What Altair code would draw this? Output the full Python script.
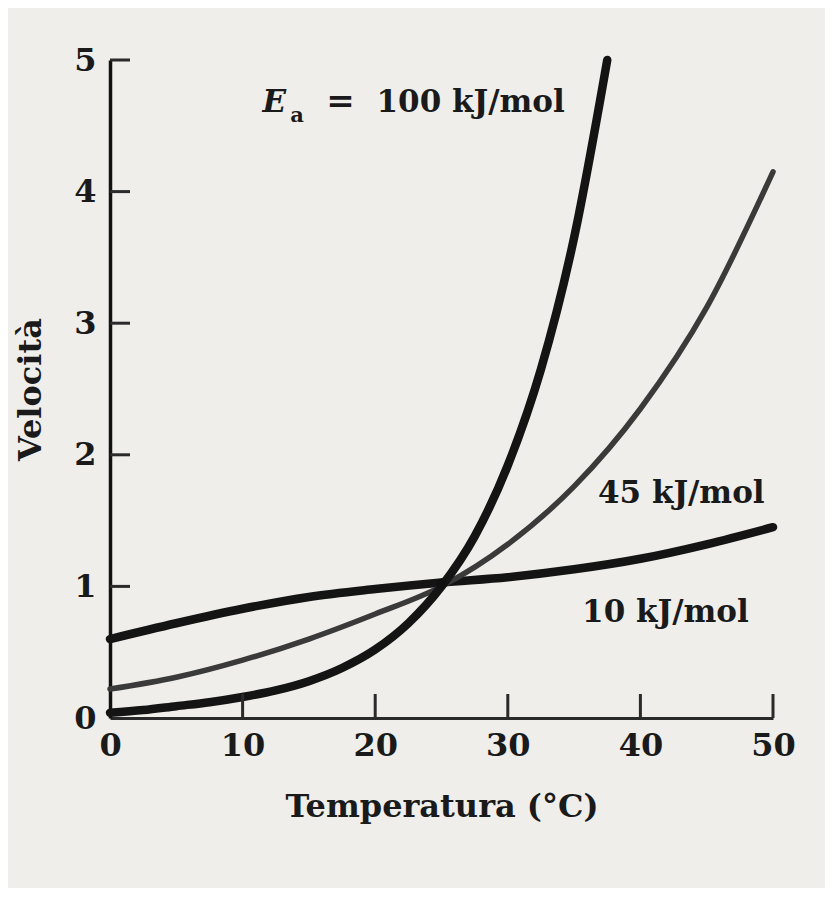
import altair as alt
import pandas as pd

# ---- data ----
temps_100 = [0, 2.5, 5, 7.5, 10, 12.5, 15, 17.5, 20, 22.5, 25, 27.5, 30, 32.5, 35, 37.5]
rate_100 = [0.04, 0.06, 0.09, 0.12, 0.16, 0.21, 0.28, 0.38, 0.52, 0.72, 1.00, 1.38, 1.92, 2.65, 3.65, 5.0]
temps_45 = [0, 5, 10, 15, 20, 25, 30, 35, 40, 45, 50]
rate_45 = [0.22, 0.31, 0.44, 0.60, 0.79, 1.00, 1.32, 1.76, 2.35, 3.12, 4.15]
temps_10 = [0, 5, 10, 15, 20, 25, 30, 35, 40, 45, 50]
rate_10 = [0.60, 0.72, 0.83, 0.92, 0.98, 1.03, 1.07, 1.13, 1.21, 1.32, 1.45]

x_ticks = [10, 20, 30, 40, 50]
y_ticks = [1, 2, 3, 4, 5]

cross_x = [25]
cross_y = [1.02]

label_texts = ["45 kJ/mol", "10 kJ/mol"]
label_x = [36.8, 35.6]
label_y = [1.63, 0.73]

W, H = 663, 658
FONT = "DejaVu Serif"
INK = "#1a1a1a"

xscale = alt.Scale(domain=[0, 50], nice=False)
yscale = alt.Scale(domain=[0, 5], nice=False)

xaxis = alt.Axis(title="Temperatura (°C)", values=[0, 10, 20, 30, 40, 50], format="d",
                 tickSize=0, labelPadding=12, grid=False,
                 domainColor="#2a2a2a", domainWidth=3,
                 labelFont=FONT, labelFontSize=32, labelFontWeight="bold",
                 labelColor=INK, labelFlush=False,
                 titleFont=FONT, titleFontSize=32, titleFontWeight="bold",
                 titleColor=INK, titlePadding=30)
yaxis = alt.Axis(title="Velocità", values=[0, 1, 2, 3, 4, 5], format="d",
                 tickSize=0, labelPadding=14, grid=False,
                 domainColor="#111111", domainWidth=3.5,
                 labelFont=FONT, labelFontSize=32, labelFontWeight="bold",
                 labelColor=INK, labelFlush=False,
                 titleFont=FONT, titleFontSize=32, titleFontWeight="bold",
                 titleColor=INK, titlePadding=26)


def curve(temps, rates, color, width, with_axes=False):
    d = pd.DataFrame({"T": temps, "v": rates})
    if with_axes:
        xe = alt.X("T:Q", scale=xscale, axis=xaxis)
        ye = alt.Y("v:Q", scale=yscale, axis=yaxis)
    else:
        xe = alt.X("T:Q", scale=xscale)
        ye = alt.Y("v:Q", scale=yscale)
    return alt.Chart(d).mark_line(interpolate="monotone", strokeCap="round",
                                  color=color, strokeWidth=width).encode(x=xe, y=ye)


c10 = curve(temps_10, rate_10, "#141414", 8.5, with_axes=True)
c45 = curve(temps_45, rate_45, "#3a3a3a", 5.5)
c100 = curve(temps_100, rate_100, "#141414", 8.5)

xt = alt.Chart(pd.DataFrame({"t": x_ticks})).mark_rule(color="#2a2a2a", strokeWidth=3).encode(
    x=alt.X("t:Q", scale=xscale), y=alt.value(H), y2=alt.value(H - 24))
yt = alt.Chart(pd.DataFrame({"t": y_ticks})).mark_rule(color="#2a2a2a", strokeWidth=3).encode(
    y=alt.Y("t:Q", scale=yscale), x=alt.value(0), x2=alt.value(20))

dot = alt.Chart(pd.DataFrame({"x": cross_x, "y": cross_y})).mark_circle(
    color="#111111", opacity=1, size=110).encode(
    x=alt.X("x:Q", scale=xscale), y=alt.Y("y:Q", scale=yscale))

labels = alt.Chart(pd.DataFrame({"x": label_x, "y": label_y, "txt": label_texts})).mark_text(
    align="left", baseline="alphabetic", font=FONT, fontSize=31, fontWeight="bold",
    color=INK).encode(
    x=alt.X("x:Q", scale=xscale), y=alt.Y("y:Q", scale=yscale), text="txt:N")


def note(x, y, txt, size=31, style="normal"):
    return alt.Chart(pd.DataFrame({"x": [x], "y": [y], "txt": [txt]})).mark_text(
        align="left", baseline="alphabetic", font=FONT, fontSize=size, fontWeight="bold",
        fontStyle=style, color=INK).encode(
        x=alt.X("x:Q", scale=xscale), y=alt.Y("y:Q", scale=yscale), text="txt:N")


ea_E = note(11.5, 4.605, "E", style="italic")
ea_a = note(13.6, 4.53, "a", size=21)
ea_eq = note(16.3, 4.605, "=", size=34)
ea_val = note(20.1, 4.605, "100 kJ/mol")

chart = alt.layer(c10, c45, c100, xt, yt, dot, labels, ea_E, ea_a, ea_eq, ea_val).properties(
    width=W, height=H,
    autosize=alt.AutoSizeParams(type="none"),
    padding={"left": 102, "top": 52, "right": 52, "bottom": 170},
    background="#efeeeb",
).configure_view(stroke=None)

chart.save("out.html", embed_options={"renderer": "svg", "actions": False})
